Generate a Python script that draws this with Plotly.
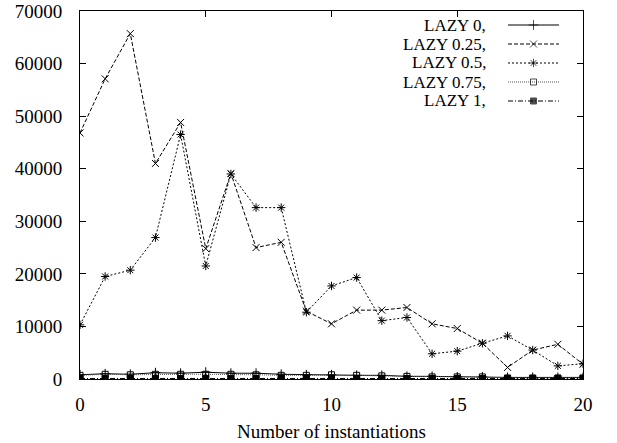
import plotly.graph_objects as go

x_vals = list(range(21))
names = ["LAZY 0,", "LAZY 0.25,", "LAZY 0.5,", "LAZY 0.75,", "LAZY 1,"]
lazy_0 = [800, 1000, 900, 1200, 1100, 1300, 1100, 1100, 900, 800, 800, 700, 700, 500, 500, 400, 400, 300, 300, 300, 300]
lazy_025 = [46800, 57100, 65700, 41000, 48800, 24800, 39100, 25000, 26000, 12900, 10500, 13100, 13100, 13600, 10500, 9600, 6800, 2200, 5500, 6600, 2800]
lazy_05 = [10300, 19500, 20700, 26900, 46500, 21500, 39000, 32600, 32600, 12700, 17700, 19300, 11100, 11700, 4800, 5300, 6800, 8200, 5500, 2500, 2900]
lazy_075 = [700, 900, 800, 900, 900, 900, 900, 800, 700, 700, 800, 700, 600, 500, 400, 400, 400, 200, 200, 200, 200]
lazy_1 = [100, 100, 100, 100, 100, 100, 100, 100, 100, 100, 100, 100, 100, 100, 100, 100, 100, 100, 100, 100, 100]
series = [lazy_0, lazy_025, lazy_05, lazy_075, lazy_1]
x_ticks = [0, 5, 10, 15, 20]
y_ticks = [0, 10000, 20000, 30000, 40000, 50000, 60000, 70000]

dashes = ["solid", "4px,2px", "2px,2px", "1px,1px", "5px,2px,1px,2px"]
symbols = ["cross-thin-open", "x-thin-open", "asterisk-open", "square-open", "square"]
msizes = [7, 7, 7, 6, 6]
lcolors = ["black", "black", "black", "#555", "black"]

FONT = "Liberation Serif"
FS = 19
KEY_FS = 17

fig = go.Figure()
for i, ys in enumerate(series):
    fig.add_trace(go.Scatter(
        x=x_vals, y=ys, mode="lines+markers", name=names[i], showlegend=False,
        line=dict(color=lcolors[i], width=1, dash=dashes[i]),
        marker=dict(symbol=symbols[i], size=msizes[i], color="black",
                    line=dict(color="black", width=1)),
    ))

# gnuplot-style key: text right-aligned, sample on the right
row_h = 19
top = 25
for i in range(len(series)):
    yp = 1 - (top + i * row_h - 11) / 368
    fig.add_trace(go.Scatter(
        x=[0, 0.5, 1], y=[yp, yp, yp], xaxis="x2", yaxis="y2", mode="lines+markers",
        showlegend=False, hoverinfo="skip",
        line=dict(color=lcolors[i], width=1, dash=dashes[i]),
        marker=dict(symbol=symbols[i], size=[0, msizes[i], 0], color="black",
                    line=dict(color="black", width=1)),
    ))
    fig.add_annotation(xref="paper", yref="paper", x=(488 - 80) / 503, y=yp,
                       text=names[i], showarrow=False, xanchor="right", yanchor="middle",
                       height=KEY_FS, valign="middle",
                       font=dict(family=FONT, size=KEY_FS, color="black"))

axis_common = dict(showline=True, linecolor="black", linewidth=1, mirror="ticks",
                   ticks="inside", ticklen=6, tickcolor="black", tickwidth=1,
                   showgrid=False, zeroline=False, automargin=False,
                   tickfont=dict(family=FONT, size=FS, color="black"))

fig.update_layout(
    width=617, height=443,
    margin=dict(l=80, r=34, t=11, b=64, autoexpand=False),
    paper_bgcolor="white", plot_bgcolor="rgba(0,0,0,0)",
    font=dict(family=FONT, color="black"),
    xaxis=dict(range=[0, 20], tickvals=x_ticks, ticktext=[str(v) for v in x_ticks],
               title=dict(text="Number of instantiations", font=dict(family=FONT, size=FS, color="black"), standoff=10),
               ticklabelstandoff=8, **axis_common),
    yaxis=dict(range=[0, 70000], tickvals=y_ticks, ticktext=[str(v) for v in y_ticks],
               ticklabelstandoff=13, **axis_common),
    xaxis2=dict(domain=[(508 - 80) / 503, (559 - 80) / 503], range=[0, 1], visible=False,
                anchor="y2"),
    yaxis2=dict(domain=[0, 1], range=[0, 1], visible=False, anchor="x2"),
)
fig.write_html("out.html", config={"displayModeBar": False},
               post_script="document.body.style.margin='0px';")
